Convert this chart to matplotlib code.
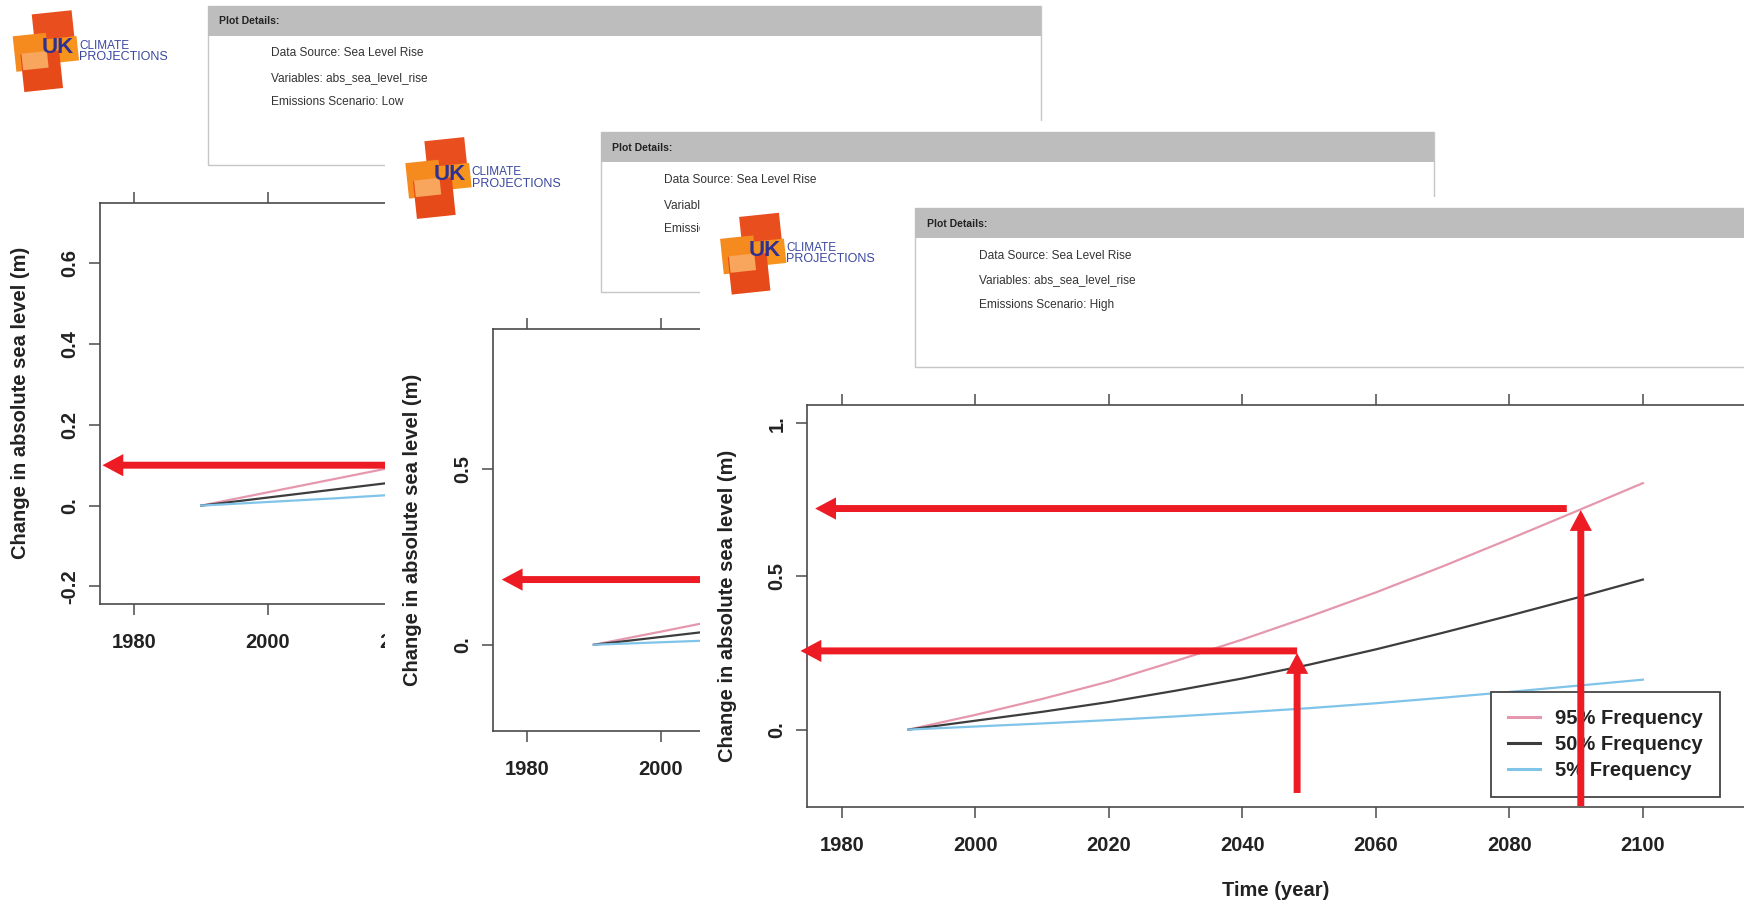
import matplotlib
matplotlib.use("Agg")
import matplotlib.pyplot as plt
from matplotlib.patches import Rectangle
from matplotlib.lines import Line2D

plt.rcParams["font.family"] = ["Liberation Sans", "DejaVu Sans"]

# ---- data ---------------------------------------------------------------
SCENARIOS = ["Low", "Medium", "High"]
SERIES_LABELS = ["95% Frequency", "50% Frequency", "5% Frequency"]

# low emissions (only up to ~2017 is visible)
YEARS_LOW = [1990, 2000, 2010, 2020]
LOW_95 = [0.0, 0.033, 0.066, 0.099]
LOW_50 = [0.0, 0.020, 0.040, 0.060]
LOW_5 = [0.0, 0.009, 0.018, 0.028]

# medium emissions (only up to ~2006 is visible)
YEARS_MED = [1990, 2000, 2010]
MED_95 = [0.0, 0.037, 0.075]
MED_50 = [0.0, 0.022, 0.044]
MED_5 = [0.0, 0.007, 0.014]

# high emissions
YEARS_HIGH = [1990, 2000, 2010, 2020, 2030, 2040, 2050, 2060, 2070, 2080, 2090, 2100]
HIGH_95 = [0.0, 0.048, 0.100, 0.157, 0.224, 0.294, 0.369, 0.448, 0.533, 0.622, 0.713, 0.805]
HIGH_50 = [0.0, 0.029, 0.058, 0.090, 0.127, 0.167, 0.212, 0.262, 0.316, 0.372, 0.430, 0.490]
HIGH_5 = [0.0, 0.010, 0.020, 0.031, 0.043, 0.056, 0.070, 0.086, 0.104, 0.123, 0.143, 0.163]

XTICKS = [1980, 2000, 2020, 2040, 2060, 2080, 2100]
YTICKS_LOW = [-0.2, 0.0, 0.2, 0.4, 0.6]
YLABELS_LOW = ["-0.2", "0.", "0.2", "0.4", "0.6"]
YTICKS_MED = [0.0, 0.5]
YLABELS_MED = ["0.", "0.5"]
YTICKS_HIGH = [0.0, 0.5, 1.0]
YLABELS_HIGH = ["0.", "0.5", "1."]

# red annotation arrows: (tail year, tail value, tip year, tip value)
ARROWS_LOW = [(2040, 0.100, 1975.2, 0.100)]
ARROWS_MED = [(2040, 0.185, 1976.2, 0.185)]
ARROWS_HIGH = [
    (2088.6, 0.722, 1976.0, 0.722),
    (2090.7, -0.250, 2090.7, 0.717),
    (2048.2, 0.257, 1973.8, 0.257),
    (2048.2, -0.207, 2048.2, 0.250),
]

DETAIL_LINES = ["Data Source: Sea Level Rise", "Variables: abs_sea_level_rise",
                "Emissions Scenario: {}"]

# ---- styling --------------------------------------------------------------
W0, H0 = 1568, 816          # layout units (reference shown at 1568x816)
LINE_COLOURS = ["#e597ad", "#3d3d3d", "#80c4ea"]
RED = "#ed1c24"
AXIS_GREY = "#4a4a4a"
TEXT = "#222222"
LOGO_BLOCKS = [((30, 11, 36, 30), "#e94e1f"), ((38, 34, 32, 22), "#f7941d"),
               ((13, 31, 30, 32), "#f58a1f"), ((20, 47, 35, 34), "#e64a19"),
               ((20, 47, 23, 15), "#f8a55e")]
PANEL_ORIGINS = [(0, 0), (353, 114), (636, 182)]


def frame(x0, y0, x1, y1):
    """Layout-unit box (y down) -> figure fraction rect."""
    return [x0 / W0, 1 - y1 / H0, (x1 - x0) / W0, (y1 - y0) / H0]


def draw_header(bg, scenario):
    for (x, y, w, h), c in LOGO_BLOCKS:
        bg.add_patch(Rectangle((x, y), w, h, angle=-6, rotation_point="center",
                               facecolor=c, edgecolor="none"))
    bg.text(37, 43, "UK", fontsize=16, fontweight="bold", color="#2e3192",
            va="center", ha="left")
    bg.text(71, 41, "CLIMATE", fontsize=8.5, color="#3a48a0", va="center")
    bg.text(71, 51, "PROJECTIONS", fontsize=9, color="#3a48a0", va="center")

    bg.add_patch(Rectangle((187, 5), 749, 143, facecolor="white",
                           edgecolor="#c6c6c6", lw=1))
    bg.add_patch(Rectangle((187, 5), 749, 27, facecolor="#bdbdbd", edgecolor="none"))
    bg.text(197, 19, "Plot Details:", fontsize=7.5, fontweight="bold",
            color=TEXT, va="center")
    for i, line in enumerate(DETAIL_LINES):
        bg.text(244, 48 + 22 * i, line.format(scenario), fontsize=8.6,
                color="#333333", va="center")


def draw_panel(fig, k, years, series, ylim, yticks, ylabels, arrows, legend=False):
    ox, oy = PANEL_ORIGINS[k]

    bg = fig.add_axes(frame(ox - 7, oy - 5, ox + 1100, oy + 640), zorder=10 * k)
    bg.set_xlim(-7, 1100)
    bg.set_ylim(640, -5)
    bg.set_xticks([])
    bg.set_yticks([])
    for s in bg.spines.values():
        s.set_visible(False)
    bg.set_facecolor("white")
    draw_header(bg, SCENARIOS[k])

    ax = fig.add_axes(frame(ox + 90, oy + 182, ox + 932, oy + 543), zorder=10 * k + 1)
    for vals, colour, label in zip(series, LINE_COLOURS, SERIES_LABELS):
        ax.plot(years, vals, color=colour, lw=1.6, label=label)

    ax.set_xlim(1974.85, 2115.15)
    ax.set_ylim(*ylim)
    ax.set_xticks(XTICKS, [str(x) for x in XTICKS], fontweight="bold")
    ax.set_yticks(yticks, ylabels, fontweight="bold", rotation=90, va="center")
    ax.tick_params(axis="both", direction="out", length=8, width=1.1,
                   colors=AXIS_GREY, labelcolor=TEXT, labelsize=14.5)
    ax.tick_params(axis="x", top=True, pad=13)
    ax.tick_params(axis="y", pad=7)
    ax.spines["right"].set_visible(False)
    for side in ("left", "top", "bottom"):
        ax.spines[side].set_color(AXIS_GREY)
        ax.spines[side].set_linewidth(1.2)

    ax.text(-72 / 842, 0.5, "Change in absolute sea level (m)", transform=ax.transAxes,
            rotation=90, ha="center", va="center", fontsize=14.5,
            fontweight="bold", color=TEXT)
    ax.text(0.5, -75 / 361, "Time (year)", transform=ax.transAxes, ha="center",
            va="center", fontsize=14.5, fontweight="bold", color=TEXT)

    if legend:
        handles = [Line2D([], [], color=c, lw=2.2) for c in LINE_COLOURS]
        leg = ax.legend(handles, SERIES_LABELS, loc="lower right",
                        bbox_to_anchor=(1546 / W0, 1 - 716 / H0),
                        bbox_transform=fig.transFigure, borderaxespad=0,
                        fancybox=False, framealpha=1, edgecolor="#444444",
                        prop=dict(size=14.5, weight="bold"), handlelength=1.6,
                        handletextpad=0.7, borderpad=0.85, labelspacing=0.33)
        leg.get_frame().set_linewidth(1.3)
        for t in leg.get_texts():
            t.set_color(TEXT)

    for x0, y0, x1, y1 in arrows:
        ax.annotate("", xy=(x1, y1), xytext=(x0, y0), annotation_clip=False,
                    arrowprops=dict(arrowstyle="simple,head_length=0.75,head_width=0.8,"
                                               "tail_width=0.25",
                                    lw=0, color=RED, shrinkA=0, shrinkB=0,
                                    mutation_scale=20),
                    zorder=6)
    return ax


def main():
    fig = plt.figure(figsize=(17.44, 9.08), dpi=100)
    fig.patch.set_facecolor("white")

    draw_panel(fig, 0, YEARS_LOW, [LOW_95, LOW_50, LOW_5], (-0.244, 0.75),
               YTICKS_LOW, YLABELS_LOW, ARROWS_LOW)
    draw_panel(fig, 1, YEARS_MED, [MED_95, MED_50, MED_5], (-0.245, 0.895),
               YTICKS_MED, YLABELS_MED, ARROWS_MED)
    draw_panel(fig, 2, YEARS_HIGH, [HIGH_95, HIGH_50, HIGH_5], (-0.252, 1.06),
               YTICKS_HIGH, YLABELS_HIGH, ARROWS_HIGH, legend=True)

    fig.savefig("out.png", dpi=100)


if __name__ == "__main__":
    main()
